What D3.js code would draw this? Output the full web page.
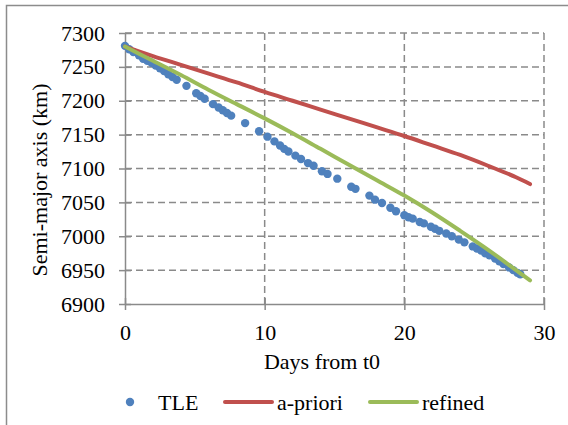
<!DOCTYPE html>
<html>
<head>
<meta charset="utf-8">
<script src="https://cdn.jsdelivr.net/npm/d3@7"></script>
<style>
  body { margin: 0; background: white; }
  svg text { font-family: "Liberation Serif", "DejaVu Serif", serif !important; }
</style>
</head>
<body>
<div id="chart"></div>
<script>
// TLE points
const tleDays = [0, 0.3, 0.6, 1.0, 1.3, 1.6, 1.9, 2.2, 2.5, 2.8, 3.1, 3.4, 3.7, 4.4, 5.1, 5.4, 5.7, 6.3, 6.7, 7.0,
  7.3, 7.6, 8.6, 9.6, 10.2, 10.7, 11.1, 11.4, 11.7, 12.2, 12.6, 13.1, 13.5, 14.1, 14.5, 15.2, 16.2, 16.5, 17.5, 17.9,
  18.4, 19.0, 19.4, 20.0, 20.3, 20.6, 21.1, 21.4, 21.9, 22.2, 22.5, 23.0, 23.4, 23.9, 24.3, 24.9, 25.2, 25.5, 25.8, 26.1,
  26.5, 26.8, 27.1, 27.5, 27.8, 28.1, 28.3];
const tleValues = [7281, 7276, 7272, 7267, 7262, 7259, 7256, 7252, 7248, 7244, 7239, 7235, 7231, 7222, 7211, 7207, 7203, 7195, 7190, 7186,
  7182, 7178, 7167, 7155, 7147, 7140, 7134, 7129, 7125, 7119, 7114, 7108, 7104, 7096, 7092, 7085, 7073, 7070, 7060, 7054,
  7049, 7042, 7037, 7031, 7028, 7026, 7021, 7019, 7014, 7011, 7008, 7004, 7000, 6995, 6991, 6985, 6982, 6979, 6975, 6972,
  6967, 6963, 6959, 6954, 6950, 6946, 6944];

const curveDays = [0, 2, 4, 6, 8, 10, 12, 14, 16, 18, 20, 22, 24, 26, 28, 29];
const aprioriValues = [7280, 7266, 7253, 7240, 7227, 7213, 7200, 7187, 7174, 7161, 7148, 7134, 7120, 7104, 7087, 7077];
const refinedValues = [7280, 7259, 7238, 7216, 7195, 7174, 7152, 7129, 7106, 7083, 7060, 7035, 7008, 6980, 6950, 6935];

const xTicks = [0, 10, 20, 30];
const yTicks = [6900, 6950, 7000, 7050, 7100, 7150, 7200, 7250, 7300];

const width = 568, height = 425;
const margin = { top: 33, right: 24, bottom: 121, left: 125 };
const fontSize = "22px";

const svg = d3.select("#chart").append("svg")
  .attr("width", width)
  .attr("height", height)
  .style("background", "white");

// outer chart border
svg.append("rect")
  .attr("x", 6.5).attr("y", 5.5)
  .attr("width", 620).attr("height", 500)
  .attr("fill", "none")
  .attr("stroke", "#8c8c8c")
  .attr("stroke-width", 1.5);

const x = d3.scaleLinear().domain([0, 30]).range([margin.left, width - margin.right]);
const y = d3.scaleLinear().domain([6900, 7300]).range([height - margin.bottom, margin.top]);

// dashed grid
const grid = svg.append("g").attr("stroke", "#8a8a8a").attr("stroke-width", 1.5).attr("stroke-dasharray", "7,4");
grid.selectAll(".hg").data(yTicks.slice(1)).enter().append("line")
  .attr("x1", x(0)).attr("x2", x(30))
  .attr("y1", d => y(d)).attr("y2", d => y(d));
grid.selectAll(".vg").data(xTicks.slice(1)).enter().append("line")
  .attr("x1", d => x(d)).attr("x2", d => x(d))
  .attr("y1", y(7300)).attr("y2", y(6900));

// axes with cross ticks
const xAxis = svg.append("g")
  .attr("transform", `translate(0,${y(6900)})`)
  .call(d3.axisBottom(x).tickValues(xTicks).tickFormat(d3.format("d")).tickSizeInner(6).tickSizeOuter(0).tickPadding(14));
xAxis.selectAll(".tick line").attr("y1", -6);
const yAxis = svg.append("g")
  .attr("transform", `translate(${x(0)},0)`)
  .call(d3.axisLeft(y).tickValues(yTicks).tickFormat(d3.format("d")).tickSizeInner(6).tickSizeOuter(0).tickPadding(14));
yAxis.selectAll(".tick line").attr("x1", 6);

[xAxis, yAxis].forEach(a => {
  a.attr("font-size", fontSize);
  a.select(".domain").attr("stroke", "#8a8a8a").attr("stroke-width", 1.5);
  a.selectAll(".tick line").attr("stroke", "#8a8a8a").attr("stroke-width", 1.5);
  a.selectAll(".tick text").attr("fill", "#000");
});

// series
const line = d3.line().x(d => x(d[0])).y(d => y(d[1])).curve(d3.curveMonotoneX);

svg.selectAll(".tle")
  .data(d3.zip(tleDays, tleValues))
  .enter().append("circle")
    .attr("class", "tle")
    .attr("cx", d => x(d[0]))
    .attr("cy", d => y(d[1]))
    .attr("r", 4.2)
    .attr("fill", "#4F81BD");

svg.append("path")
  .datum(d3.zip(curveDays, aprioriValues))
  .attr("d", line)
  .attr("fill", "none")
  .attr("stroke", "#C0504D")
  .attr("stroke-width", 4)
  .attr("stroke-linecap", "round");

svg.append("path")
  .datum(d3.zip(curveDays, refinedValues))
  .attr("d", line)
  .attr("fill", "none")
  .attr("stroke", "#9BBB59")
  .attr("stroke-width", 4)
  .attr("stroke-linecap", "round");

// axis titles
svg.append("text")
  .attr("x", 322).attr("y", 369)
  .attr("text-anchor", "middle")
  .attr("font-size", fontSize)
  .text("Days from t0");

svg.append("text")
  .attr("transform", "translate(47,180) rotate(-90)")
  .attr("text-anchor", "middle")
  .attr("font-size", fontSize)
  .text("Semi-major axis (km)");

// legend
const legendY = 402;
svg.append("circle").attr("cx", 130).attr("cy", legendY).attr("r", 4.2).attr("fill", "#4F81BD");
svg.append("text").attr("x", 158).attr("y", legendY + 8).attr("font-size", fontSize).text("TLE");
svg.append("line").attr("x1", 225).attr("x2", 272).attr("y1", legendY).attr("y2", legendY)
  .attr("stroke", "#C0504D").attr("stroke-width", 4).attr("stroke-linecap", "round");
svg.append("text").attr("x", 277).attr("y", legendY + 8).attr("font-size", fontSize).text("a-priori");
svg.append("line").attr("x1", 370).attr("x2", 417).attr("y1", legendY).attr("y2", legendY)
  .attr("stroke", "#9BBB59").attr("stroke-width", 4).attr("stroke-linecap", "round");
svg.append("text").attr("x", 422).attr("y", legendY + 8).attr("font-size", fontSize).text("refined");
</script>
</body>
</html>
